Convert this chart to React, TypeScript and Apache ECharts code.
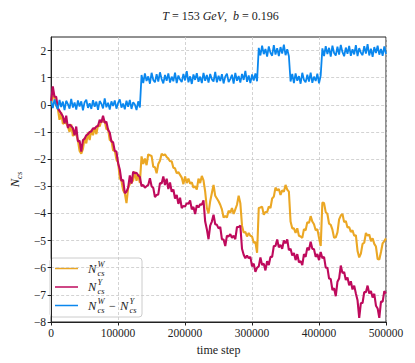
import React, { useEffect, useRef } from "react";
import * as echarts from "echarts";

// sampling step of the traces (time steps)
const T_STEP = 2500;

// N_cs^W (orange)
const N_W: number[] = [
  0.05, 0.35, 0.25, -0.02, -0.15, -0.55, -0.28, -0.7, -0.65, -0.68,
  -0.8, -1.0, -0.72, -1.15, -1.05, -1.08, -1.32, -1.7, -1.8, -1.62,
  -1.22, -1.42, -1.02, -1.3, -0.92, -1.12, -0.84, -1.08, -0.74, -0.8,
  -0.58, -0.62, -0.6, -0.9, -0.88, -1.3, -1.3, -1.68, -1.68, -2.02,
  -2.12, -2.7, -2.8, -3.15, -3.26, -3.62, -3.06, -2.92, -2.86, -2.78,
  -2.46, -2.8, -2.55, -2.88, -1.9, -2.18, -1.98, -2.22, -1.82, -1.86,
  -1.88, -2.28, -2.3, -2.52, -2.18, -2.06, -1.8, -1.86, -1.82, -1.92,
  -1.98, -2.08, -2.08, -2.32, -2.34, -2.52, -2.48, -2.58, -2.68, -2.92,
  -2.64, -2.88, -2.72, -2.9, -2.85, -3.05, -3.0, -3.12, -2.72, -2.88,
  -2.62, -2.78, -3.2, -3.8, -4.0, -3.55, -3.25, -2.95, -3.35, -3.45,
  -3.55, -3.68, -3.85, -4.15, -4.1, -4.15, -3.9, -3.98, -3.8, -4.02,
  -3.85, -3.68, -3.35, -3.62, -4.45, -4.7, -4.68, -4.85, -4.72, -4.82,
  -4.85, -5.08, -5.05, -5.45, -3.8, -3.78, -3.75, -4.05, -3.95, -3.95,
  -3.75, -3.8, -3.45, -3.38, -3.05, -3.15, -3.1, -3.32, -3.15, -3.2,
  -2.95, -3.12, -3.2, -4.3, -4.55, -4.55, -4.72, -4.55, -4.82, -4.85,
  -4.9, -4.58, -4.62, -4.32, -4.35, -4.1, -4.3, -4.4, -4.62, -4.58,
  -4.9, -5.2, -3.6, -3.62, -3.95, -4.02, -4.38, -4.42, -4.6, -4.9,
  -4.88, -4.7, -4.22, -4.08, -4.02, -4.32, -4.28, -4.52, -4.5, -4.68,
  -4.62, -4.82, -4.8, -5.38, -5.62, -5.48, -5.12, -5.08, -4.72, -4.82,
  -4.78, -5.02, -4.92, -5.12, -5.22, -5.68, -5.7, -5.42, -5.1, -5.02,
  -4.92,
];

// N_cs^Y (magenta)
const N_Y: number[] = [
  0.15, 0.68, 0.3, 0.3, -0.12, -0.22, -0.32, -0.42, -0.68, -0.4,
  -0.85, -0.72, -0.78, -0.86, -1.12, -0.8, -1.35, -1.32, -1.72, -1.3,
  -1.25, -1.12, -1.08, -1.0, -0.98, -0.86, -0.88, -0.8, -0.78, -0.55,
  -0.65, -0.4, -0.66, -0.62, -0.92, -1.02, -1.35, -1.38, -1.7, -1.72,
  -2.15, -2.38, -2.8, -2.76, -3.25, -3.2, -3.05, -2.6, -2.9, -2.46,
  -2.52, -2.5, -2.6, -2.66, -3.0, -2.95, -3.05, -3.0, -2.95, -2.7,
  -3.0, -3.06, -3.4, -3.32, -3.3, -2.88, -2.9, -2.64, -2.95, -2.72,
  -3.1, -2.86, -3.2, -3.12, -3.45, -3.32, -3.65, -3.42, -3.8, -3.72,
  -3.75, -3.62, -3.65, -3.52, -3.85, -3.76, -4.02, -3.7, -3.78, -3.66,
  -3.68, -3.52, -4.3, -4.58, -4.95, -4.45, -4.3, -4.05, -4.4, -4.42,
  -4.55, -4.5, -4.95, -4.96, -5.2, -4.82, -4.85, -4.76, -4.9, -4.82,
  -4.95, -4.5, -4.5, -4.45, -5.3, -5.52, -5.65, -5.55, -5.65, -5.6,
  -5.95, -5.85, -6.15, -6.0, -5.95, -5.62, -5.9, -5.85, -6.1, -5.76,
  -5.9, -5.6, -5.6, -5.2, -5.2, -4.96, -5.25, -5.16, -5.3, -5.0,
  -5.1, -4.96, -5.35, -5.3, -5.55, -5.46, -5.72, -5.5, -5.8, -5.76,
  -5.9, -5.5, -5.6, -5.26, -5.35, -5.04, -5.3, -5.32, -5.6, -5.5,
  -5.72, -5.42, -5.65, -5.6, -6.0, -6.0, -6.4, -6.42, -6.82, -6.76,
  -7.05, -6.52, -6.4, -5.92, -6.2, -6.16, -6.45, -6.36, -6.65, -6.5,
  -6.8, -6.66, -6.95, -7.2, -7.85, -7.3, -7.3, -6.9, -6.9, -6.66,
  -6.95, -6.86, -7.1, -6.96, -7.4, -7.5, -7.85, -7.25, -7.25, -6.86,
  -6.95,
];

// N_cs^W - N_cs^Y (blue)
const N_DIFF: number[] = [
  0.14, -0.12, 0.2, -0.02, -0.16, 0.18, -0.08, 0.12, -0.19, 0.15,
  0.03, -0.14, 0.22, -0.1, 0.09, -0.17, 0.16, -0.06, 0.13, -0.2,
  0.1, 0.19, -0.11, 0.06, -0.15, 0.17, -0.07, 0.12, -0.18, 0.14,
  0.04, -0.13, 0.24, -0.09, 0.08, -0.17, 0.13, -0.04, 0.16, -0.14,
  0.07, 0.2, -0.1, 0.05, -0.16, 0.15, -0.07, 0.18, -0.15, 0.1,
  0.01, -0.19, 0.13, -0.1,
  1.1, 0.8, 1.16, 0.88, 1.05, 0.78, 1.18, 0.92, 0.83, 1.13,
  0.86, 1.2, 0.95, 0.79, 1.1, 0.89, 1.16, 0.82, 1.04, 0.87,
  1.19, 0.8, 1.08, 0.93, 0.84, 1.14, 0.9, 1.24, 0.83, 1.05,
  0.77, 1.12, 0.92, 1.17, 0.85, 1.04, 0.8, 1.18, 0.89, 1.1,
  0.82, 1.14, 0.94, 0.86, 1.21, 0.83, 1.07, 0.88, 1.13, 0.79,
  1.04, 1.15, 0.84, 0.95, 1.11, 0.78, 1.18, 0.89, 1.06, 0.82,
  1.14, 0.92, 1.25, 0.85, 1.08, 0.8, 1.12, 0.9, 1.16, 0.87,
  2.1, 1.82, 2.18, 1.87, 2.06, 1.78, 2.15, 1.92, 1.81, 2.2,
  1.85, 2.09, 1.8, 2.13, 1.89, 2.22, 1.83, 2.05, 1.79,
  0.86, 1.14, 0.8, 1.16, 0.89, 1.06, 0.78, 1.18, 0.92, 0.83,
  1.11, 0.86, 1.19, 0.81, 1.04, 0.88, 1.15, 0.79, 1.08,
  2.08, 1.8, 2.16, 1.87, 2.1, 1.78, 2.18, 1.91, 1.82, 2.14,
  1.85, 2.21, 1.94, 1.79, 2.11, 1.88, 2.17, 1.81, 2.05, 1.86,
  2.2, 1.8, 2.09, 1.92, 1.83, 2.16, 1.89, 2.24, 1.82, 2.07,
  1.77, 2.13, 1.91, 2.18, 1.85, 2.06, 1.81, 2.15, 1.88,
];

const X_TICKS = [0, 100000, 200000, 300000, 400000, 500000];
const Y_TICKS = [-8, -7, -6, -5, -4, -3, -2, -1, 0, 1, 2];

const C_W = "#EBA724";
const C_Y = "#BE0A5C";
const C_D = "#0A87EE";

const SERIF = "Liberation Serif";
const INK = "#222222";

const toPairs = (vals: number[]) => vals.map((v, i) => [i * T_STEP, v]);
const fmtMinus = (v: number) => (v < 0 ? "\u2212" + Math.abs(v) : String(v));

const serifRich = (size: number) => ({
  r: { fontFamily: SERIF, fontSize: size, color: INK },
  i: { fontFamily: SERIF, fontSize: size, fontStyle: "italic", color: INK },
});

function legendGraphic() {
  const x0 = 50, y0 = 258, w = 92, h = 59;
  const rows = [268.5, 287, 305.5];
  const cols = [C_W, C_Y, C_D];
  const children: any[] = [
    { type: "rect", shape: { x: x0, y: y0, width: w, height: h, r: 3 }, style: { fill: "rgba(255,255,255,0.85)", stroke: "#cccccc", lineWidth: 1 } },
  ];
  const mathN = (x: number, y: number, sup: string, sub: string) => [
    { type: "text", style: { text: "N", x, y, font: `italic 12.5px ${SERIF}`, fill: INK, textVerticalAlign: "middle" } },
    { type: "text", style: { text: sup, x: x + 9.5, y: y - 5, font: `italic 8.5px ${SERIF}`, fill: INK, textVerticalAlign: "middle" } },
    { type: "text", style: { text: sub, x: x + 9.5, y: y + 4, font: `italic 8.5px ${SERIF}`, fill: INK, textVerticalAlign: "middle" } },
  ];
  rows.forEach((y, k) => {
    children.push({ type: "line", shape: { x1: 55, y1: y, x2: 78, y2: y }, style: { stroke: cols[k], lineWidth: 1.5 } });
  });
  children.push(...mathN(88, rows[0], "W", "cs"));
  children.push(...mathN(88, rows[1], "Y", "cs"));
  children.push(...mathN(88, rows[2], "W", "cs"));
  children.push({ type: "text", style: { text: "\u2212", x: 109, y: rows[2], font: `12px ${SERIF}`, fill: INK, textVerticalAlign: "middle" } });
  children.push(...mathN(120, rows[2], "Y", "cs"));
  return children;
}

export default function App() {
  const ref = useRef<HTMLDivElement>(null);
  useEffect(() => {
    if (!ref.current) return;
    const chart = echarts.init(ref.current, undefined, { renderer: "svg" });
    const option: any = {
      animation: false,
      backgroundColor: "#ffffff",
      textStyle: { fontFamily: SERIF },
      title: {
        text: "{i|T} = 153 {i|GeV},  {i|b} = 0.196",
        left: 215.5,
        top: 5,
        textAlign: "center",
        textStyle: {
          fontFamily: SERIF,
          fontSize: 12,
          fontWeight: "normal",
          color: INK,
          rich: serifRich(12),
        },
      },
      grid: {
        left: 45,
        right: 29,
        top: 37,
        bottom: 41,
        show: true,
        borderColor: INK,
        borderWidth: 1,
        backgroundColor: "transparent",
      },
      xAxis: {
        type: "value",
        min: X_TICKS[0],
        max: X_TICKS[X_TICKS.length - 1],
        interval: 100000,
        name: "{r|time step}",
        nameLocation: "middle",
        nameGap: 18,
        nameTextStyle: { fontFamily: SERIF, fontSize: 12, color: INK, rich: serifRich(12) },
        axisLine: { show: true, onZero: false, lineStyle: { color: INK, width: 1 } },
        axisTick: { show: true, length: 3.5, lineStyle: { color: INK } },
        axisLabel: {
          fontFamily: SERIF, fontSize: 11.5, color: INK, margin: 5,
          rich: serifRich(11.5),
          formatter: (v: number) => "{r|" + String(v) + "}",
        },
        splitLine: { show: true, lineStyle: { color: "#c8c8c8", type: [3, 2], width: 0.8 } },
      },
      yAxis: {
        type: "value",
        min: Y_TICKS[0],
        max: 2.5,
        interval: 1,
        name: "{n|N}{s|cs}",
        nameLocation: "middle",
        nameGap: 23,
        nameRotate: 90,
        nameTextStyle: {
          fontFamily: SERIF,
          color: INK,
          rich: {
            n: { fontFamily: SERIF, fontSize: 12.5, fontStyle: "italic", color: INK, lineHeight: 16, verticalAlign: "middle" },
            s: { fontFamily: SERIF, fontSize: 8.5, fontStyle: "italic", color: INK, lineHeight: 16, verticalAlign: "bottom", padding: [6, 0, 0, 0] },
          },
        },
        axisLine: { show: true, onZero: false, lineStyle: { color: INK, width: 1 } },
        axisTick: { show: true, length: 3.5, lineStyle: { color: INK }, customValues: Y_TICKS },
        axisLabel: {
          fontFamily: SERIF, fontSize: 11.5, color: INK, margin: 5, customValues: Y_TICKS,
          rich: serifRich(11.5),
          formatter: (v: number) => "{r|" + fmtMinus(v) + "}",
        },
        splitLine: { show: true, lineStyle: { color: "#c8c8c8", type: [3, 2], width: 0.8 } },
      },
      series: [
        { name: "N_W", type: "line", data: toPairs(N_W), showSymbol: false, symbol: "none", lineStyle: { color: C_W, width: 2.1 }, itemStyle: { color: C_W }, z: 2 },
        { name: "N_Y", type: "line", data: toPairs(N_Y), showSymbol: false, symbol: "none", lineStyle: { color: C_Y, width: 2.1 }, itemStyle: { color: C_Y }, z: 3 },
        { name: "N_W - N_Y", type: "line", data: toPairs(N_DIFF), showSymbol: false, symbol: "none", lineStyle: { color: C_D, width: 1.8 }, itemStyle: { color: C_D }, z: 4 },
      ],
      graphic: [{ type: "group", z: 100, children: legendGraphic() }],
    };
    chart.setOption(option);
    return () => chart.dispose();
  }, []);
  return <div ref={ref} style={{ position: "fixed", left: 0, top: 0, width: 415, height: 363 }} />;
}
